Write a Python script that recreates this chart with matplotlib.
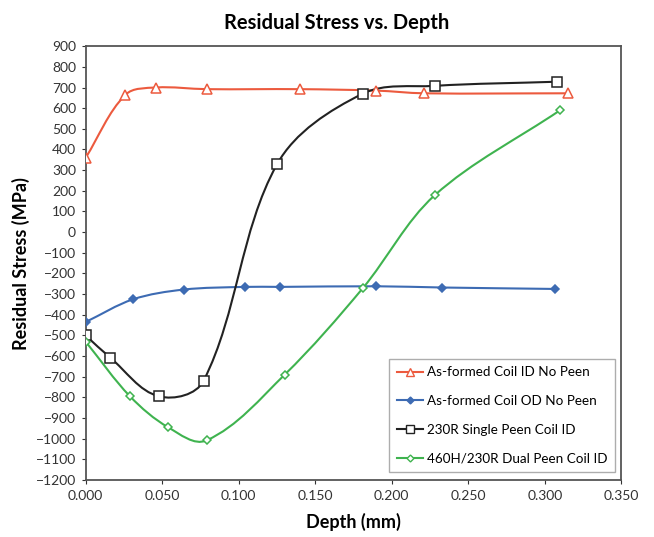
import numpy as np
import matplotlib
matplotlib.use("Agg")
import matplotlib.pyplot as plt
from matplotlib.path import Path
from matplotlib.patches import PathPatch
from matplotlib.lines import Line2D

plt.rcParams['font.family'] = ['Lato', 'DejaVu Sans']

# data
names = ["As-formed Coil ID No Peen", "As-formed Coil OD No Peen",
         "230R Single Peen Coil ID", "460H/230R Dual Peen Coil ID"]
red_x = [0.000, 0.026, 0.046, 0.079, 0.140, 0.190, 0.221, 0.315]
red_y = [360, 665, 700, 692, 692, 685, 672, 672]
blue_x = [0.000, 0.031, 0.064, 0.104, 0.127, 0.190, 0.233, 0.307]
blue_y = [-435, -325, -278, -265, -265, -262, -268, -275]
black_x = [0.000, 0.016, 0.048, 0.077, 0.125, 0.181, 0.228, 0.308]
black_y = [-500, -607, -795, -720, 328, 670, 708, 728]
green_x = [0.000, 0.029, 0.054, 0.079, 0.130, 0.181, 0.228, 0.310]
green_y = [-530, -795, -945, -1008, -690, -272, 178, 590]

colors = ["#EC5A3E", "#3D6BB3", "#222222", "#3FB34F"]
markers = ["^", "D", "s", "D"]
msizes = [6.5, 4.5, 6.5, 4.5]
mfaces = ["white", "#3D6BB3", "white", "white"]

XR, YR = (0, 0.35), (-1200, 900)
# rough pixel size of the plot area, used only to shape the smoothing
SX, SY = 535.5 / (XR[1] - XR[0]), 434.0 / (YR[1] - YR[0])


def smooth_path(xs, ys):
    # excel-like smoothed line: bezier with tangents scaled by segment length
    pts = np.column_stack([np.array(xs) * SX, np.array(ys) * SY])
    n = len(pts)
    tang = []
    for i in range(n):
        a = pts[i - 1] if i > 0 else pts[i]
        b = pts[i + 1] if i < n - 1 else pts[i]
        t = b - a
        tang.append(t / np.hypot(*t))
    verts = [pts[0]]
    codes = [Path.MOVETO]
    for i in range(n - 1):
        L = np.hypot(*(pts[i + 1] - pts[i])) / 3.0
        verts += [pts[i] + tang[i] * L, pts[i + 1] - tang[i + 1] * L, pts[i + 1]]
        codes += [Path.CURVE4] * 3
    verts = np.array(verts) / [SX, SY]
    return Path(verts, codes)


fig = plt.figure(figsize=(6.54, 5.37), dpi=100)
ax = fig.add_axes([0.131, 0.106, 0.819, 0.808])

series = [(red_x, red_y), (blue_x, blue_y), (black_x, black_y), (green_x, green_y)]
handles = []
for (xs, ys), c, m, ms, mf, name in zip(series, colors, markers, msizes, mfaces, names):
    patch = PathPatch(smooth_path(xs, ys), facecolor="none", edgecolor=c, lw=1.5,
                      transform=ax.transData, zorder=2)
    ax.add_patch(patch)
    ax.plot(xs, ys, ls="none", marker=m, ms=ms, mfc=mf, mec=c, mew=1.1, zorder=3)
    handles.append(Line2D([], [], color=c, lw=1.5, marker=m, ms=ms - 1, mfc=mf,
                          mec=c, mew=1.0, label=name))

ax.set_xlim(*XR)
ax.set_ylim(*YR)
ax.set_xticks(np.arange(0, 0.351, 0.05))
ax.set_xticklabels(["%.3f" % v for v in np.arange(0, 0.351, 0.05)])
ax.set_yticks(np.arange(-1200, 901, 100))
ax.tick_params(labelsize=10, colors="#333333", length=3, width=0.8, pad=4)
for s in ax.spines.values():
    s.set_color("#555555")
    s.set_linewidth(1.3)

ax.set_xlabel("Depth (mm)", fontsize=13, fontweight="bold", labelpad=8)
ax.set_ylabel("Residual Stress (MPa)", fontsize=13, fontweight="bold", labelpad=4)
fig.text(0.515, 0.957, "Residual Stress vs. Depth", fontsize=14.5, fontweight="bold",
         ha="center", va="center")

leg = ax.legend(handles=handles, loc="lower right", bbox_to_anchor=(0.989, 0.018),
                fontsize=9.7, frameon=True, fancybox=False, edgecolor="#999999",
                handlelength=2.0, handletextpad=0.3, labelspacing=1.25,
                borderpad=0.55, borderaxespad=0)
leg.get_frame().set_linewidth(1.0)

fig.savefig("out.png", dpi=100)
